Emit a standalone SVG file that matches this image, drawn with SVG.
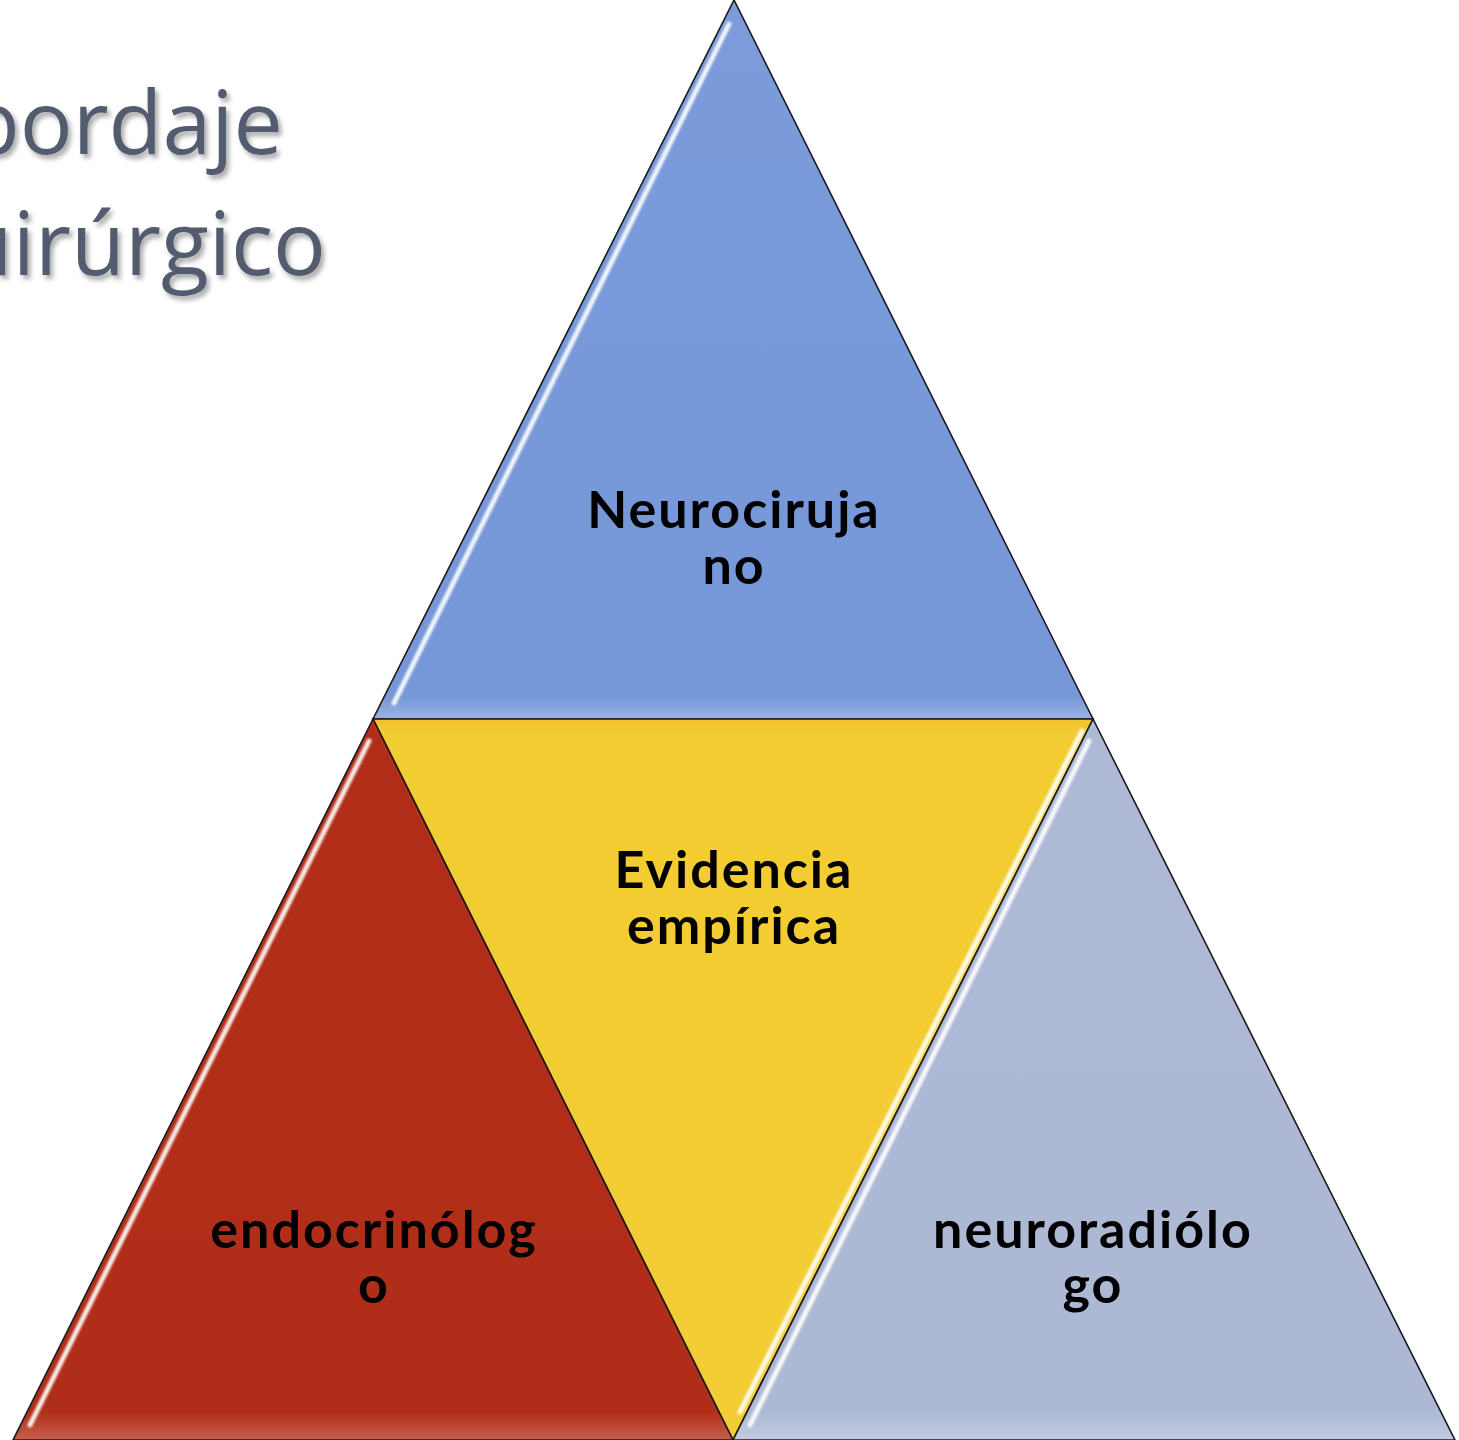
<svg xmlns="http://www.w3.org/2000/svg" width="1459" height="1440" viewBox="0 0 1459 1440">
<style>
.tri{stroke:#1a1a1a;stroke-width:1.6;stroke-linejoin:miter}
.hl{stroke:#ffffff;stroke-width:5;stroke-linecap:round;fill:none;opacity:0.9;filter:url(#blur)}
.lbl{font-family:Lato,"Open Sans","Liberation Sans",sans-serif;font-weight:bold;font-size:52px;letter-spacing:2px;fill:#000;text-anchor:middle}
.title{font-family:"Open Sans","Liberation Sans",sans-serif;font-size:88px;fill:#525c6e;text-anchor:end}
</style>
<defs>
<filter id="blur" x="-10%" y="-10%" width="120%" height="120%"><feGaussianBlur stdDeviation="1.2"/></filter>
<filter id="tshadow" x="-10%" y="-10%" width="130%" height="130%"><feGaussianBlur in="SourceAlpha" stdDeviation="2.5"/><feOffset dx="3" dy="4"/><feComponentTransfer><feFuncA type="linear" slope="0.35"/></feComponentTransfer><feMerge><feMergeNode/><feMergeNode in="SourceGraphic"/></feMerge></filter>
<linearGradient id="gb" x1="0" y1="0" x2="0" y2="1"><stop offset="0" stop-color="#7b9bdb"/><stop offset="0.97" stop-color="#7698d8"/><stop offset="1" stop-color="#9bb3e4"/></linearGradient>
<linearGradient id="gy" x1="0" y1="0" x2="0" y2="1"><stop offset="0" stop-color="#f0c22c"/><stop offset="0.02" stop-color="#f3cc32"/><stop offset="1" stop-color="#f3cd33"/></linearGradient>
<linearGradient id="gr" x1="0" y1="0" x2="0" y2="1"><stop offset="0" stop-color="#b22e19"/><stop offset="0.96" stop-color="#b02e19"/><stop offset="1" stop-color="#c6604e"/></linearGradient>
<linearGradient id="gg" x1="0" y1="0" x2="0" y2="1"><stop offset="0" stop-color="#aebad5"/><stop offset="0.96" stop-color="#adb9d4"/><stop offset="1" stop-color="#c2cbe0"/></linearGradient>
</defs>
<rect width="1459" height="1440" fill="#ffffff"/>
<g id="title" filter="url(#tshadow)">
<text class="title" x="283" y="154">Abordaje</text>
<text class="title" x="326" y="275">quirúrgico</text>
</g>
<g id="node-neurocirujano">
<polygon class="tri" points="734,0 373,719 1093,719" fill="url(#gb)"/>
<line class="hl" x1="729" y1="24" x2="394" y2="703"/>
<text class="lbl" x="734" y="528">Neurociruja</text>
<text class="lbl" x="734" y="584">no</text>
</g>
<g id="node-evidencia">
<polygon class="tri" points="373,719 1093,719 733,1440" fill="url(#gy)"/>
<line class="hl" x1="1082" y1="731" x2="740" y2="1412"/>
<text class="lbl" x="734" y="888">Evidencia</text>
<text class="lbl" x="734" y="944">empírica</text>
</g>
<g id="node-endocrinologo">
<polygon class="tri" points="373,719 13,1440 733,1440" fill="url(#gr)"/>
<line class="hl" x1="369" y1="741" x2="30" y2="1425"/>
<text class="lbl" x="374" y="1248">endocrinólog</text>
<text class="lbl" x="374" y="1303">o</text>
</g>
<g id="node-neuroradiologo">
<polygon class="tri" points="1093,719 733,1440 1455,1440" fill="url(#gg)"/>
<line class="hl" x1="1089" y1="741" x2="750" y2="1425"/>
<text class="lbl" x="1093" y="1248">neuroradiólo</text>
<text class="lbl" x="1093" y="1303">go</text>
</g>
<g id="connectors"></g>
</svg>
